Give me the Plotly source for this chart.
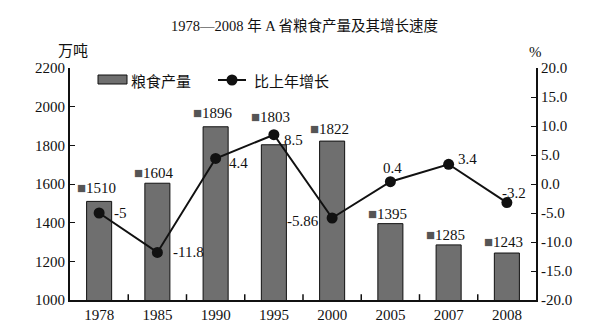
import plotly.graph_objects as go

years = ["1978", "1985", "1990", "1995", "2000", "2005", "2007", "2008"]
output = [1510, 1604, 1896, 1803, 1822, 1395, 1285, 1243]
growth = [-5, -11.8, 4.4, 8.5, -5.86, 0.4, 3.4, -3.2]
growth_text = ["-5", "-11.8", "4.4", "8.5", "-5.86", "0.4", "3.4", "-3.2"]

left_ticks = [1000, 1200, 1400, 1600, 1800, 2000, 2200]
right_ticks = [-20, -15, -10, -5, 0, 5, 10, 15, 20]
right_tick_text = ["-20.0", "-15.0", "-10.0", "-5.0", "0.0", "5.0", "10.0", "15.0", "20.0"]

FONT = "Liberation Serif, Noto Sans CJK SC, serif"
CJK = "Noto Sans CJK SC, sans-serif"
INK = "#111"
BAR = "#6f6f6f"

# plot area in pixels
L, R, T, B = 70, 536, 68, 300
W, H = 594, 336


def px(x):
    return (x - L) / (R - L)


def py(y):
    return (B - y) / (B - T)


pos = list(range(len(years)))

fig = go.Figure()
fig.add_trace(go.Bar(
    x=pos, y=output, name="粮食产量",
    marker=dict(color=BAR, line=dict(color=INK, width=1)),
    width=0.43, yaxis="y",
))
fig.add_trace(go.Scatter(
    x=pos, y=growth, name="比上年增长", mode="lines+markers",
    line=dict(color=INK, width=2),
    marker=dict(color=INK, size=11),
    yaxis="y2",
))

# value labels for the bars: small square badge + number
bar_label_lift = [13, 10, 14, 28, 12, 10, 10, 11]
for i, v, lift in zip(pos, output, bar_label_lift):
    fig.add_annotation(
        x=i, y=v, xref="x", yref="y",
        text=f"<span style='color:#555'>■</span>{v}",
        showarrow=False, yshift=lift, xshift=-3,
        font=dict(family=FONT, size=15, color=INK),
    )

# growth labels with per-point offsets
offsets = [(21, 0), (31, 0), (23, -5), (20, -5), (-29, -3), (2, 14), (19, 5), (7, 10)]
for i, g, t, (dx, dy) in zip(pos, growth, growth_text, offsets):
    fig.add_annotation(
        x=i, y=g, xref="x", yref="y2", text=t, showarrow=False,
        xshift=dx, yshift=dy,
        font=dict(family=FONT, size=15, color=INK),
    )

# title and axis unit labels
fig.add_annotation(x=px(304), y=py(26), xref="paper", yref="paper",
                   xanchor="center", yanchor="middle",
                   text="1978—2008 年 A 省粮食产量及其增长速度", showarrow=False,
                   font=dict(family=FONT, size=14.5, color=INK))
fig.add_annotation(x=px(73), y=py(50), xref="paper", yref="paper",
                   xanchor="center", yanchor="middle",
                   text="万吨", showarrow=False,
                   font=dict(family=CJK, size=15, color=INK))
fig.add_annotation(x=px(535), y=py(52), xref="paper", yref="paper",
                   xanchor="center", yanchor="middle",
                   text="%", showarrow=False,
                   font=dict(family=FONT, size=15, color=INK))

# legend drawn by hand: wide bar swatch and line-with-dot swatch
fig.add_shape(type="rect", xref="paper", yref="paper",
              x0=px(98), x1=px(127), y0=py(84), y1=py(75),
              fillcolor=BAR, line=dict(color=INK, width=1))
fig.add_annotation(x=px(129), y=py(80), xref="paper", yref="paper",
                   xanchor="left", yanchor="middle", text="粮食产量",
                   showarrow=False, font=dict(family=CJK, size=15, color=INK))
fig.add_shape(type="line", xref="paper", yref="paper",
              x0=px(218), x1=px(246), y0=py(80), y1=py(80),
              line=dict(color=INK, width=2))
fig.add_shape(type="circle", xref="paper", yref="paper",
              xsizemode="pixel", ysizemode="pixel",
              xanchor=px(232), yanchor=py(80),
              x0=-5.5, x1=5.5, y0=-5.5, y1=5.5,
              fillcolor=INK, line=dict(color=INK, width=0))
fig.add_annotation(x=px(252), y=py(80), xref="paper", yref="paper",
                   xanchor="left", yanchor="middle", text="比上年增长",
                   showarrow=False, font=dict(family=CJK, size=15, color=INK))

fig.update_layout(
    width=W, height=H,
    margin=dict(l=L, r=W - R, t=T, b=H - B),
    paper_bgcolor="white", plot_bgcolor="white",
    showlegend=False,
    xaxis=dict(range=[-0.5, len(years) - 0.5], tickvals=pos, ticktext=years,
               showline=True, linecolor=INK, linewidth=2,
               ticks="", tickfont=dict(family=FONT, size=15, color=INK),
               showgrid=False, zeroline=False),
    yaxis=dict(range=[1000, 2200], tickvals=left_ticks, showline=True,
               linecolor=INK, linewidth=2, ticks="inside", ticklen=5,
               tickcolor=INK, showgrid=False, zeroline=False,
               tickfont=dict(family=FONT, size=15, color=INK)),
    yaxis2=dict(range=[-20, 20], tickvals=right_ticks, ticktext=right_tick_text,
                overlaying="y", side="right", showline=True, linecolor=INK,
                linewidth=2, ticks="inside", ticklen=5, tickcolor=INK,
                showgrid=False, zeroline=False,
                tickfont=dict(family=FONT, size=15, color=INK)),
)

# small tick marks between categories on the x axis
for i in range(1, len(years)):
    fig.add_shape(type="line", xref="x", yref="paper", x0=i - 0.5, x1=i - 0.5,
                  y0=0, y1=0.025, line=dict(color=INK, width=1.5))

fig.write_html("out.html")
